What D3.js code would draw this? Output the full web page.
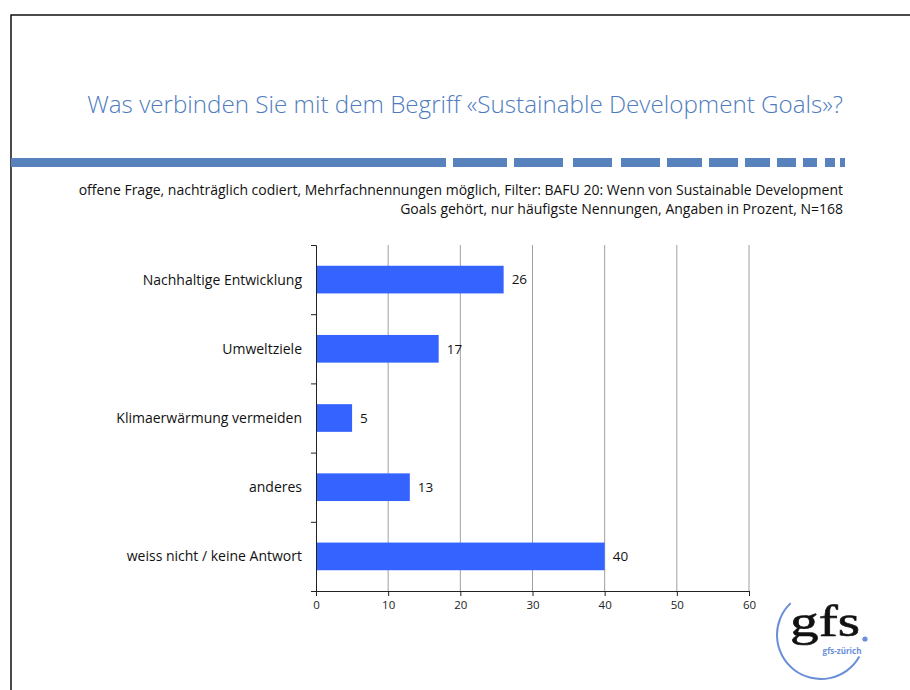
<!DOCTYPE html>
<html>
<head>
<meta charset="utf-8">
<script src="https://cdn.jsdelivr.net/npm/d3@7"></script>
<style>
  body { margin: 0; background: #fff; }
</style>
</head>
<body>
<div id="chart"></div>
<script>
var svgWidth = 910;
var svgHeight = 690;
var sans = "'Open Sans', 'Noto Sans', sans-serif";

// data
var categories = ["Nachhaltige Entwicklung", "Umweltziele", "Klimaerwärmung vermeiden", "anderes", "weiss nicht / keine Antwort"];
var values = [26, 17, 5, 13, 40];
var xTicks = [0, 10, 20, 30, 40, 50, 60];

var titleText = "Was verbinden Sie mit dem Begriff «Sustainable Development Goals»?";
var noteLines = [
    "offene Frage, nachträglich codiert, Mehrfachnennungen möglich, Filter: BAFU 20: Wenn von Sustainable Development",
    "Goals gehört, nur häufigste Nennungen, Angaben in Prozent, N=168"
];

// decorative stripe under the title
var stripe = [[11, 446], [453, 507], [514, 563], [573, 612], [621, 660], [667, 702],
              [709, 738], [745, 770], [777, 796], [803, 817], [825, 835], [840, 845]];

var plot = { left: 316, right: 749, top: 245, bottom: 591 };

var svg = d3.select("#chart")
            .append("svg")
            .attr("width", svgWidth)
            .attr("height", svgHeight)
            .style("font-family", sans);

// page frame
svg.append("path")
   .attr("d", "M11,690 V15 H910")
   .attr("fill", "none")
   .attr("stroke", "#111")
   .attr("stroke-width", 1.5);

svg.append("text")
   .attr("x", 843)
   .attr("y", 113)
   .attr("text-anchor", "end")
   .attr("fill", "#4f7cc0")
   .attr("font-size", "24.2px")
   .attr("font-weight", 300)
   .text(titleText);

svg.selectAll(".stripe")
   .data(stripe)
   .enter()
   .append("rect")
   .attr("class", "stripe")
   .attr("x", d => d[0])
   .attr("width", d => d[1] - d[0])
   .attr("y", 158)
   .attr("height", 9)
   .attr("fill", "#5882be");

svg.selectAll(".note")
   .data(noteLines)
   .enter()
   .append("text")
   .attr("class", "note")
   .attr("x", 843)
   .attr("y", (d, i) => 195 + i * 18.5)
   .attr("text-anchor", "end")
   .attr("font-size", "14px")
   .attr("fill", "#111")
   .text(d => d);

var xScale = d3.scaleLinear()
               .domain([0, 60])
               .range([plot.left, plot.right]);

var yScale = d3.scaleBand()
               .domain(categories)
               .range([plot.top, plot.bottom])
               .paddingInner(0.6)
               .paddingOuter(0.3);

// vertical grid
svg.append("g")
   .selectAll("line")
   .data(xTicks.slice(1))
   .enter()
   .append("line")
   .attr("x1", d => xScale(d))
   .attr("x2", d => xScale(d))
   .attr("y1", plot.top)
   .attr("y2", plot.bottom)
   .attr("stroke", "#a0a0a0")
   .attr("stroke-width", 1);

// bars
svg.append("g")
   .selectAll("rect")
   .data(values)
   .enter()
   .append("rect")
   .attr("x", xScale(0))
   .attr("y", (d, i) => yScale(categories[i]))
   .attr("width", d => xScale(d) - xScale(0))
   .attr("height", yScale.bandwidth())
   .attr("fill", "#3563ff");

// value labels
svg.append("g")
   .selectAll("text")
   .data(values)
   .enter()
   .append("text")
   .attr("x", d => xScale(d) + 8)
   .attr("y", (d, i) => yScale(categories[i]) + yScale.bandwidth() / 2)
   .attr("dy", "0.35em")
   .attr("font-size", "13.5px")
   .attr("fill", "#111")
   .text(d => d);

// bottom axis
var bottomAxis = d3.axisBottom(xScale)
                   .tickValues(xTicks)
                   .tickSizeOuter(0)
                   .tickSize(5);

var xAxis = svg.append("g")
               .attr("transform", `translate(0, ${plot.bottom})`)
               .call(bottomAxis);
xAxis.select(".domain").attr("stroke", "#222");
xAxis.selectAll(".tick line").attr("stroke", "#222");
xAxis.selectAll("text")
     .style("font-family", sans)
     .style("font-size", "11.5px")
     .attr("fill", "#222")
     .attr("dy", "0.85em");

// left axis: ticks at band boundaries
var boundScale = d3.scaleLinear()
                   .domain([0, categories.length])
                   .range([plot.top, plot.bottom]);

var leftAxis = d3.axisLeft(boundScale)
                 .tickValues(d3.range(categories.length + 1))
                 .tickFormat("")
                 .tickSizeOuter(0)
                 .tickSize(5);

var yAxis = svg.append("g")
               .attr("transform", `translate(${plot.left}, 0)`)
               .call(leftAxis);
yAxis.select(".domain").attr("stroke", "#222");
yAxis.selectAll(".tick line").attr("stroke", "#222");

// category labels
svg.append("g")
   .selectAll("text")
   .data(categories)
   .enter()
   .append("text")
   .attr("x", 302)
   .attr("y", d => yScale(d) + yScale.bandwidth() / 2)
   .attr("dy", "0.35em")
   .attr("text-anchor", "end")
   .attr("font-size", "14px")
   .attr("fill", "#111")
   .text(d => d);

// gfs logo
var logo = svg.append("g");
var arc = d3.arc()
            .innerRadius(43)
            .outerRadius(45)
            .startAngle(-0.76)
            .endAngle(-4.2);
logo.append("path")
    .attr("transform", "translate(821, 635)")
    .attr("d", arc)
    .attr("fill", "#6a8fd8");
logo.append("text")
    .attr("x", 790)
    .attr("y", 636)
    .attr("textLength", 70)
    .attr("lengthAdjust", "spacingAndGlyphs")
    .style("font-family", "'Liberation Serif', 'DejaVu Serif', serif")
    .attr("font-size", "45px")
    .attr("fill", "#111")
    .attr("stroke", "#111")
    .attr("stroke-width", 0.6)
    .text("gfs");
logo.append("circle")
    .attr("cx", 865)
    .attr("cy", 639)
    .attr("r", 2.6)
    .attr("fill", "#6a8fd8");
logo.append("text")
    .attr("x", 842)
    .attr("y", 654)
    .attr("text-anchor", "middle")
    .attr("font-size", "8px")
    .attr("font-weight", "bold")
    .attr("fill", "#6a8fd8")
    .text("gfs-zürich");
</script>
</body>
</html>
